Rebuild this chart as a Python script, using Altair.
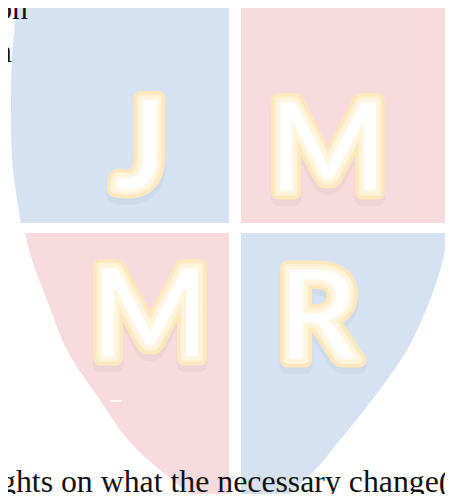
import altair as alt
import pandas as pd

# ---- shield quadrants (page pixel coordinates, y downwards) ----
top_y = [5, 60, 117, 170, 223]
top_left_edge = [17, 12, 11, 13, 21]
top_right_y = [5, 200, 223]
top_right_edge = [453, 453, 451]
bottom_y = [233, 260, 300, 350, 400, 440, 470, 502]
bottom_left_edge = [25, 32, 47, 67, 100, 128, 160, 200]
bottom_right_edge = [447, 443, 430, 407, 372, 340, 315, 280]
inner_left = 229
inner_right = 241

BLUE = "#d6e2f1"
PINK = "#f8dcdd"

# ---- watermark letters ----
letters = ["J", "M", "M", "R"]
letter_x = [140, 328, 150, 318]
letter_y = [190, 192, 358, 360]

# small white scratch inside the lower-left quadrant
scratch_x = [110]
scratch_x2 = [122]
scratch_y = [401]

# ---- document text fragments ----
right_lines = ["on", "n"]
right_x = [28, 12]
right_y = [19, 62]
left_lines = ["ghts on what the necessary change(s"]
left_x = [0]
left_y = [492]

# visible page area: the page has an 8px margin
W, H = 437, 486
xs = alt.Scale(domain=[8, 8 + W], nice=False, zero=False)
ys = alt.Scale(domain=[8, 8 + H], nice=False, zero=False, reverse=True)


def area(df, color):
    return alt.Chart(df).mark_area(
        orient="horizontal", interpolate="catmull-rom", color=color, clip=True
    ).encode(
        y=alt.Y("y:Q", scale=ys, axis=None),
        x=alt.X("x:Q", scale=xs, axis=None),
        x2="x2:Q",
    )


tl = pd.DataFrame({"y": top_y, "x": top_left_edge, "x2": [inner_left] * len(top_y)})
tr = pd.DataFrame({"y": top_right_y, "x": [inner_right] * len(top_right_y), "x2": top_right_edge})
bl = pd.DataFrame({"y": bottom_y, "x": bottom_left_edge, "x2": [inner_left] * len(bottom_y)})
br = pd.DataFrame({"y": bottom_y, "x": [inner_right] * len(bottom_y), "x2": bottom_right_edge})

shapes = area(tl, BLUE) + area(tr, PINK) + area(bl, PINK) + area(br, BLUE)

scratch = alt.Chart(pd.DataFrame({"x": scratch_x, "x2": scratch_x2, "y": scratch_y})).mark_rule(
    color="#ffffff", strokeWidth=2, opacity=0.8
).encode(
    x=alt.X("x:Q", scale=xs, axis=None), x2="x2:Q", y=alt.Y("y:Q", scale=ys, axis=None)
)

ldf = pd.DataFrame({"t": letters, "x": letter_x, "y": letter_y})


def letter_layer(**kw):
    return alt.Chart(ldf).mark_text(
        font="Lato", fontWeight="bold", fontSize=126, baseline="alphabetic",
        align="center", **kw
    ).encode(
        x=alt.X("x:Q", scale=xs, axis=None),
        y=alt.Y("y:Q", scale=ys, axis=None),
        text="t:N",
    )


shadow = letter_layer(dy=6, fill="#000000", fillOpacity=0.03, stroke="#000000",
                      strokeOpacity=0.035, strokeWidth=16, strokeJoin="round")
glow_outer = letter_layer(fill="#fdeac4", stroke="#fde7bd", strokeWidth=15, strokeJoin="round")
glow_inner = letter_layer(fill="#fff6e0", stroke="#fff2d4", strokeWidth=8, strokeJoin="round")
white = letter_layer(fill="#ffffff", stroke="#fff6e2", strokeWidth=3.5, strokeJoin="round")

rdf = pd.DataFrame({"t": right_lines, "x": right_x, "y": right_y})
ldf2 = pd.DataFrame({"t": left_lines, "x": left_x, "y": left_y})


def body(df, align):
    return alt.Chart(df).mark_text(
        font="Liberation Serif", fontSize=31.8, baseline="alphabetic",
        align=align, color="#111111"
    ).encode(
        x=alt.X("x:Q", scale=xs, axis=None),
        y=alt.Y("y:Q", scale=ys, axis=None),
        text="t:N",
    )


chart = alt.layer(
    shapes, scratch, shadow, glow_outer, glow_inner, white,
    body(rdf, "right"), body(ldf2, "left")
).properties(
    width=W, height=H, padding=0, autosize=alt.AutoSizeParams(type="none"),
    background="#ffffff",
).configure_view(stroke=None)

chart.save("out.html", embed_options={"renderer": "svg", "actions": False})
